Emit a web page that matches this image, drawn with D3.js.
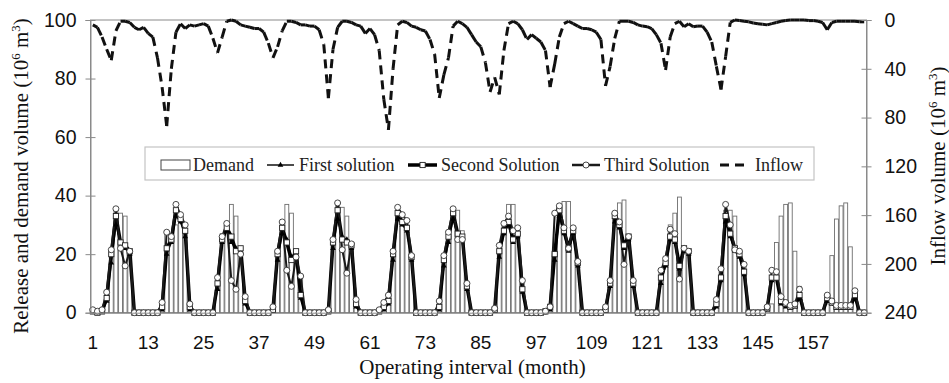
<!DOCTYPE html>
<html>
<head>
<meta charset="utf-8">
<script src="https://cdn.jsdelivr.net/npm/d3@7"></script>
<style>
  body { margin: 0; background: #fff; }
  svg { display: block; font-family: "Liberation Serif", "Times New Roman", serif; }
</style>
</head>
<body>
<svg id="chart" width="949" height="383"></svg>
<script>
// months 1..168, one value per month, written year by year
const months = d3.range(1, 169);
const tickMonths = [1, 13, 25, 37, 49, 61, 73, 85, 97, 109, 121, 133, 145, 157];
const leftTicks = [0, 20, 40, 60, 80, 100];
const rightTicks = [0, 40, 80, 120, 160, 200, 240];

const demand = [
  0,0,0,6,21,35,34,33,21,0,0,0,
  0,0,0,3,28,27,30,32,28,3,0,0,
  0,0,0,12,27,30,37,33,22,6,0,0,
  0,0,0,1,21,31,37,34,20,12,0,0,
  0,0,0,1,25,37,36,33,23,4,0,0,
  0,0,0,0,3,20,34,33,28,20,0,0,
  0,0,0,2,18,26,34,35,28,10,0,0,
  0,0,0,1,22,30,37,37,28,10,0,0,
  0,0,0,2,20,34,38,38,27,16,0,0,
  0,0,0,1,10,33,37.5,38.5,25,11,0,0,
  0,0,0,14,19,30,34,39.5,22,20,0,0,
  0,0,0,4,14,35,35,33,20,16,0,0,
  0,0,0,3,24,33,37,37.5,21,9,0,0,
  0,0,0,3,19.5,32,36.5,37.5,22.5,7,0,0
];

const firstSolution = [
  0,0,0,4,17,30,24,22,20,0,0,0,
  0,0,0,1,20,24,33,31,26,1,0,0,
  0,0,0,8,24,28,24,22,21,3,0,0,
  0,0,0,0.5,18,27,25,19,20,5,0,0,
  0,0,0,0,22,32,26,25,22,2,0,0,
  0,0,0,1,3,18,32,30,28,18,0,0,
  0,0,0,1,16,24,32,26,25,8,0,0,
  0,0,0,0.5,19,27,30,24,26,7,0,0,
  0,0,0,1,18,33,27,21,27,16,0,0,
  0,0,0,0.5,9,31,29,22,25,9,0,0,
  0,0,0,10,16,25,24,15,21,20,0,0,
  0,0,0,2,11,31,26,21,19,13,0,0,
  0,0,1,11,13,3,2,1.5,2,5,0,0,
  0,0,0,4,3,1.5,1.5,1.5,1.5,5,0,0
];

const secondSolution = [
  0.5,0,0.5,5,20,33,24,23,21,0,0,0,
  0,0,0,2,22,25,35,32,28,2,0,0,
  0,0,0,10,25,29,26,21,22,4,0,0,
  0,0,0,1,20,29,24,18,21,6,0,0,
  0,0,0,0.5,24,35,25,24,23,3,0,0,
  0,0,0.5,2,4,20,34,31,29,19,0,0,
  0,0,0,2,18,26,34,27,26,9,0,0,
  0,0,0,1,21,28,31,25,27,8,0,0,
  0,0,0.5,2,20,35,28,22,28,17,0,0,
  0,0,0,1,10,33,30,23,26,10,0,0,
  0,0,0,12,17,26,25,16,22,21,0,0,
  0,0,0,3,12,33,27,22,20,14,0,0,
  0,0,1.5,12,12,4,3,2,2.5,6,0,0,
  0,0,0,5,3.5,2,2,2,2,6,0,0
];

const thirdSolution = [
  1,0.5,1,7,21.5,35.5,22,16,21,0,0,0,
  0,0,0,3.5,27.5,26,37,33.5,30,3,0,0,
  0,0,0,12,26,30.5,11,8,20,5.5,0,0,
  0,0,0,2,21,31,14.5,9,19,12.5,0,0,
  0,0,0,1,25,37.5,21.5,13.5,23.5,4.5,0,0,
  0,0,1,3.5,6,21,36,33.5,31.5,19.5,0,0,
  0,0,0,4,19.5,27.5,35.5,25,25,10,0,0,
  0,0,0,1.5,23,30.5,33,28,29,11,0,0,
  0,0,0.5,2,34,36.5,29,22,29,17.5,0,0,
  0,0,0,2,11,34,31,16.5,26,11,0,0,
  0,0,0,14.5,18.5,28.5,27,11.5,22,21,0,0,
  0,0,0,4.5,15,37,30,21.5,21,16.5,0,0,
  0,0,2,14.5,14,5.5,3.5,2.5,3,8,0,0,
  0,0,0,6,4,2.5,2.5,2.5,2.5,7.5,0,0
];

// right axis, inverted
const inflow = [
  4,6,14,24,33,9,1,1,2,6,8,6,
  11,14,31,55,87,40,10,3,7,4,5,4,
  3,5,15,27,14,1,0,1,4,5,6,7,
  7,10,19,31,22,9,1,1,2,4,4,5,
  5,8,20,64,24,6,1,1,2,4,5,11,
  7,12,25,65,90,40,4,1,2,5,6,8,
  9,16,28,64,45,31,5,1,3,6,12,18,
  22,35,59,47,61,25,3,1,3,8,16,12,
  15,18,25,55,36,14,3,1,3,5,7,7,
  8,10,16,54,38,15,1,1,1,2,4,5,
  5.5,7,12,19,41,14,3,1,5.5,3,5.5,5,
  5,10,18,38,57,30,2,0,0.5,1,1.5,2.5,
  3,3.5,4,3,2,1,0.5,0,0,0,0,0.5,
  0.5,1,2,8,2,1,1,1,1,1,1.5,1.5
];

const width = 949, height = 383;
const margin = {left: 90.5, right: 82.5, top: 20, bottom: 70.3};
const axisColor = "#8a8a8a";

const svg = d3.select("#chart");

const x = d3.scaleBand()
  .domain(months)
  .range([margin.left, width - margin.right])
  .paddingInner(0.16)
  .paddingOuter(0.08);
const cx = m => x(m) + x.bandwidth() / 2;

const y = d3.scaleLinear().domain([0, 100]).range([height - margin.bottom, margin.top]);
const y2 = d3.scaleLinear().domain([0, 240]).range([margin.top, height - margin.bottom]);

// plot frame
svg.append("rect")
  .attr("x", margin.left).attr("y", margin.top)
  .attr("width", width - margin.left - margin.right)
  .attr("height", height - margin.top - margin.bottom)
  .attr("fill", "none").attr("stroke", axisColor).attr("stroke-width", 1);

// demand bars
svg.append("g")
  .selectAll("rect")
  .data(months.filter((m, i) => demand[i] > 0))
  .join("rect")
  .attr("x", m => x(m))
  .attr("y", m => y(demand[m - 1]))
  .attr("width", x.bandwidth())
  .attr("height", m => y(0) - y(demand[m - 1]))
  .attr("fill", "#fff")
  .attr("stroke", "#6e6e6e")
  .attr("stroke-width", 0.9);

// inflow: dashed, the pattern restarts on each segment
const inflowLine = d3.line().x(d => cx(d[0])).y(d => y2(d[1]));
svg.append("g")
  .selectAll("path")
  .data(d3.pairs(months.map((m, i) => [m, inflow[i]])))
  .join("path")
  .attr("d", d => inflowLine(d))
  .attr("fill", "none")
  .attr("stroke", "#111")
  .attr("stroke-width", 3)
  .attr("stroke-dasharray", "9,6")
  .attr("stroke-linecap", "butt");

const relLine = d3.line().x((d, i) => cx(months[i])).y(d => y(d));

svg.append("path").datum(firstSolution)
  .attr("d", relLine).attr("fill", "none")
  .attr("stroke", "#111").attr("stroke-width", 1.5).attr("stroke-linejoin", "round");
svg.append("path").datum(secondSolution)
  .attr("d", relLine).attr("fill", "none")
  .attr("stroke", "#000").attr("stroke-width", 3.5).attr("stroke-linejoin", "round");
svg.append("path").datum(thirdSolution)
  .attr("d", relLine).attr("fill", "none")
  .attr("stroke", "#1a1a1a").attr("stroke-width", 2).attr("stroke-linejoin", "round");

// markers
const tri = d3.symbol(d3.symbolTriangle).size(14);
svg.append("g").selectAll("path")
  .data(months)
  .join("path")
  .attr("transform", m => `translate(${cx(m)},${y(firstSolution[m - 1])})`)
  .attr("d", tri)
  .attr("fill", "#000");

svg.append("g").selectAll("rect")
  .data(months)
  .join("rect")
  .attr("x", m => cx(m) - 2.6)
  .attr("y", m => y(secondSolution[m - 1]) - 2.6)
  .attr("width", 5.2).attr("height", 5.2)
  .attr("fill", "#fff").attr("stroke", "#222").attr("stroke-width", 0.9);

svg.append("g").selectAll("circle")
  .data(months)
  .join("circle")
  .attr("cx", m => cx(m))
  .attr("cy", m => y(thirdSolution[m - 1]))
  .attr("r", 3)
  .attr("fill", "#fff").attr("stroke", "#333").attr("stroke-width", 0.9);

// axes
svg.append("g")
  .attr("transform", `translate(${margin.left},0)`)
  .call(d3.axisLeft(y).tickValues(leftTicks).tickSize(5).tickPadding(9))
  .call(g => g.select(".domain").attr("stroke", axisColor))
  .call(g => g.selectAll(".tick line").attr("x1", 5).attr("stroke", axisColor))
  .call(g => g.selectAll(".tick text").attr("font-size", 19.5).attr("font-family", null).attr("fill", "#111"));

svg.append("g")
  .attr("transform", `translate(${width - margin.right},0)`)
  .call(d3.axisRight(y2).tickValues(rightTicks).tickSize(5).tickPadding(13))
  .call(g => g.select(".domain").attr("stroke", axisColor))
  .call(g => g.selectAll(".tick line").attr("x1", -5).attr("stroke", axisColor))
  .call(g => g.selectAll(".tick text").attr("font-size", 19.5).attr("font-family", null).attr("fill", "#111"));

svg.append("g")
  .attr("transform", `translate(0,${height - margin.bottom})`)
  .call(d3.axisBottom(x).tickValues(tickMonths).tickSize(0).tickPadding(22.5))
  .call(g => g.select(".domain").attr("stroke", axisColor))
  .call(g => g.selectAll(".tick text").attr("font-size", 19).attr("font-family", null).attr("fill", "#111"));

// axis titles
svg.append("text")
  .attr("x", 472.5)
  .attr("y", 374)
  .attr("text-anchor", "middle")
  .attr("font-size", 21).attr("fill", "#111")
  .text("Operating interval (month)");

function unitTitle(g, label) {
  g.append("tspan").text(label + " (10");
  g.append("tspan").attr("font-size", 13).attr("dy", -8).text("6");
  g.append("tspan").attr("dy", 8).text(" m");
  g.append("tspan").attr("font-size", 13).attr("dy", -8).text("3");
  g.append("tspan").attr("dy", 8).text(")");
}

svg.append("text")
  .attr("transform", "translate(28,176) rotate(-90)")
  .attr("text-anchor", "middle")
  .attr("font-size", 21).attr("fill", "#111")
  .call(unitTitle, "Release and demand volume");

svg.append("text")
  .attr("transform", "translate(945,166) rotate(-90)")
  .attr("text-anchor", "middle")
  .attr("font-size", 21).attr("fill", "#111")
  .call(unitTitle, "Inflow volume");

// legend
const legend = svg.append("g");
legend.append("rect")
  .attr("x", 145).attr("y", 147).attr("width", 669).attr("height", 33)
  .attr("fill", "#fff").attr("stroke", "#c4c4c4").attr("stroke-width", 1.2);

const ly = 165;
legend.append("rect")
  .attr("x", 161).attr("y", ly - 5).attr("width", 29).attr("height", 10)
  .attr("fill", "#fff").attr("stroke", "#444").attr("stroke-width", 1);
legend.append("text").attr("x", 193).attr("y", ly + 6).text("Demand");

legend.append("line").attr("x1", 267).attr("x2", 294).attr("y1", ly).attr("y2", ly)
  .attr("stroke", "#111").attr("stroke-width", 1.5);
legend.append("path").attr("transform", `translate(280.5,${ly})`).attr("d", tri).attr("fill", "#000");
legend.append("text").attr("x", 299).attr("y", ly + 6).text("First solution");

legend.append("line").attr("x1", 408).attr("x2", 437).attr("y1", ly).attr("y2", ly)
  .attr("stroke", "#000").attr("stroke-width", 3.5);
legend.append("rect").attr("x", 420).attr("y", ly - 2.6).attr("width", 5.2).attr("height", 5.2)
  .attr("fill", "#fff").attr("stroke", "#222").attr("stroke-width", 0.9);
legend.append("text").attr("x", 441).attr("y", ly + 6).text("Second Solution");

legend.append("line").attr("x1", 572).attr("x2", 600).attr("y1", ly).attr("y2", ly)
  .attr("stroke", "#1a1a1a").attr("stroke-width", 2.5);
legend.append("circle").attr("cx", 586).attr("cy", ly).attr("r", 3)
  .attr("fill", "#fff").attr("stroke", "#333").attr("stroke-width", 0.9);
legend.append("text").attr("x", 604).attr("y", ly + 6).text("Third Solution");

legend.append("line").attr("x1", 720).attr("x2", 750).attr("y1", ly).attr("y2", ly)
  .attr("stroke", "#111").attr("stroke-width", 3).attr("stroke-dasharray", "9,6");
legend.append("text").attr("x", 755).attr("y", ly + 6).text("Inflow");

legend.selectAll("text").attr("font-size", 18).attr("fill", "#222");
</script>
</body>
</html>
